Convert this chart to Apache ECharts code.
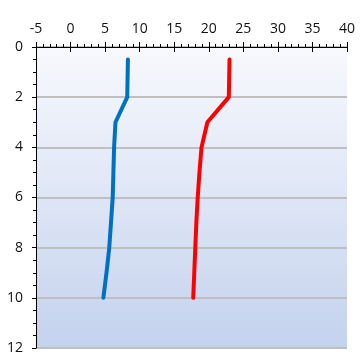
<!DOCTYPE html>
<html>
<head>
<meta charset="utf-8">
<script src="https://cdn.jsdelivr.net/npm/echarts@6/dist/echarts.min.js"></script>
<style>
html,body{margin:0;padding:0;background:#fff;}
#c{width:361px;height:355px;}
</style>
</head>
<body>
<div id="c"></div>
<script>
// Depth profile: depth (m, downward) against value on the top axis
const depths = [0.5, 2, 3, 4, 5, 6, 7, 8, 9, 10];
const blueValues = [8.3, 8.2, 6.5, 6.3, 6.2, 6.1, 5.85, 5.6, 5.2, 4.75];
const redValues = [23.0, 22.9, 19.8, 18.95, 18.65, 18.4, 18.2, 18.05, 17.9, 17.75];
const xTicks = [-5, 0, 5, 10, 15, 20, 25, 30, 35, 40];
const yTicks = [0, 2, 4, 6, 8, 10, 12];

const pairs = (vals) => vals.map((v, i) => [v, depths[i]]);
const font = 'Open Sans, Liberation Sans, sans-serif';

const chart = echarts.init(document.getElementById('c'), null, {renderer: 'canvas'});
chart.setOption({
  animation: false,
  grid: {
    left: 36, right: 14, top: 47, bottom: 7,
    show: true,
    borderWidth: 0,
    backgroundColor: new echarts.graphic.LinearGradient(0, 0, 0, 1, [
      {offset: 0, color: '#f8f9fd'},
      {offset: 1, color: '#c4d2ee'}
    ])
  },
  xAxis: [{
    type: 'value', position: 'top',
    min: xTicks[0], max: xTicks[xTicks.length - 1], interval: 5,
    axisLine: {show: true, onZero: false, lineStyle: {color: '#000', width: 1}},
    axisTick: {show: true, length: 5, lineStyle: {color: '#000', width: 1}},
    minorTick: {show: true, splitNumber: 5, length: 3, lineStyle: {color: '#000', width: 1}},
    axisLabel: {color: '#111', fontSize: 14, fontFamily: font, margin: 11},
    splitLine: {show: false}
  }, {
    // inward half of the crossing major ticks
    type: 'value', position: 'top',
    min: xTicks[0], max: xTicks[xTicks.length - 1], interval: 5,
    axisLine: {show: false, onZero: false},
    axisTick: {show: true, inside: true, length: 5, lineStyle: {color: '#000', width: 1}},
    axisLabel: {show: false},
    splitLine: {show: false}
  }],
  yAxis: {
    type: 'value', inverse: true,
    min: yTicks[0], max: yTicks[yTicks.length - 1], interval: 2,
    axisLine: {show: true, onZero: false, lineStyle: {color: '#000', width: 1}},
    axisTick: {show: true, length: 4, lineStyle: {color: '#000', width: 1}},
    minorTick: {show: true, splitNumber: 4, length: 3, lineStyle: {color: '#000', width: 1}},
    axisLabel: {color: '#111', fontSize: 14, fontFamily: font, margin: 13},
    splitLine: {show: true, lineStyle: {color: '#bfbfbf', width: 2}}
  },
  series: [{
    type: 'line', xAxisIndex: 0, data: pairs(blueValues),
    symbol: 'none',
    lineStyle: {color: '#0070c0', width: 4, cap: 'round', join: 'round'}
  }, {
    type: 'line', xAxisIndex: 0, data: pairs(redValues),
    symbol: 'none',
    lineStyle: {color: '#ff0000', width: 4, cap: 'round', join: 'round'}
  }]
});
</script>
</body>
</html>
